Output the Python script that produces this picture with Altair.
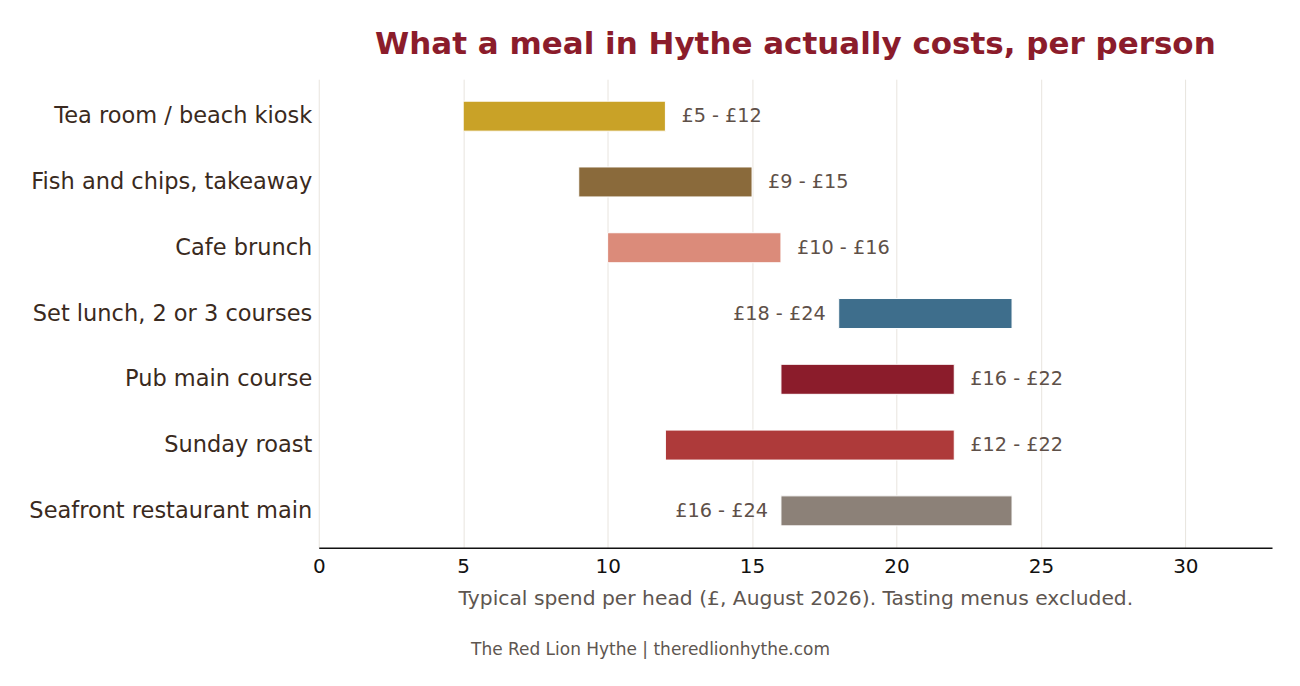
import altair as alt
import pandas as pd

categories = ["Tea room / beach kiosk", "Fish and chips, takeaway", "Cafe brunch",
              "Set lunch, 2 or 3 courses", "Pub main course", "Sunday roast",
              "Seafront restaurant main"]
low = [5, 9, 10, 18, 16, 12, 16]
high = [12, 15, 16, 24, 22, 22, 24]
colors = ["#C9A227", "#8A6A3B", "#DB8B7A", "#3E6E8C", "#8B1C2B", "#AE3A3A", "#8C8178"]
label_side = ["right", "right", "right", "left", "right", "right", "left"]

df = pd.DataFrame({
    "cat": categories, "low": low, "high": high, "color": colors, "side": label_side,
})
df["label"] = ["£%d - £%d" % (a, b) for a, b in zip(low, high)]

W, H = 954, 469
FONT = "DejaVu Sans"

y_enc = alt.Y("cat:N", sort=categories, title=None,
              scale=alt.Scale(paddingInner=0.544, paddingOuter=0.334),
              axis=alt.Axis(labelFontSize=22.5, labelColor="#3a2a20", labelFont=FONT,
                            ticks=False, domain=False, labelPadding=7, grid=False,
                            labelLimit=400))
x_scale = alt.Scale(domain=[0, 33], nice=False)

base = alt.Chart(df)

bars = base.mark_bar(stroke="white", strokeWidth=1).encode(
    y=y_enc,
    x=alt.X("low:Q", scale=x_scale,
            title="Typical spend per head (£, August 2026). Tasting menus excluded.",
            axis=alt.Axis(values=[0, 5, 10, 15, 20, 25, 30], labelFontSize=20,
                          labelColor="#111111", labelFont=FONT, ticks=False,
                          labelFlush=False,
                          domainColor="#111111", domainWidth=1.5, labelPadding=9,
                          gridColor="#e8e4de", gridWidth=1,
                          titleFontSize=20.3, titleFont=FONT, titleColor="#5e5650",
                          titleFontWeight="normal", titlePadding=12)),
    x2="high:Q",
    color=alt.Color("color:N", scale=None),
)

right_labels = base.transform_filter(alt.datum.side == "right").mark_text(
    align="left", baseline="middle", dx=16, fontSize=19.3, font=FONT, color="#5e5048"
).encode(y=alt.Y("cat:N", sort=categories), x=alt.X("high:Q", scale=x_scale), text="label:N")

left_labels = base.transform_filter(alt.datum.side == "left").mark_text(
    align="right", baseline="middle", dx=-13, fontSize=19.3, font=FONT, color="#5e5048"
).encode(y=alt.Y("cat:N", sort=categories), x=alt.X("low:Q", scale=x_scale), text="label:N")

footer = alt.Chart(pd.DataFrame({"t": ["The Red Lion Hythe | theredlionhythe.com"]})).mark_text(
    align="center", baseline="middle", fontSize=17, font=FONT, color="#5e5650"
).encode(x=alt.value(332), y=alt.value(H + 102), text="t:N")

chart = alt.layer(bars, right_labels, left_labels, footer).properties(
    width=W, height=H,
    background="white",
    title=alt.TitleParams("What a meal in Hythe actually costs, per person",
                          fontSize=31, font=FONT, fontWeight="bold", color="#8B1C2B",
                          anchor="middle", offset=18),
    padding={"left": 20, "top": 21, "right": 20, "bottom": 10},
).configure_view(stroke="transparent", strokeWidth=0)

chart.save("out.html", embed_options={"renderer": "svg", "actions": False})
